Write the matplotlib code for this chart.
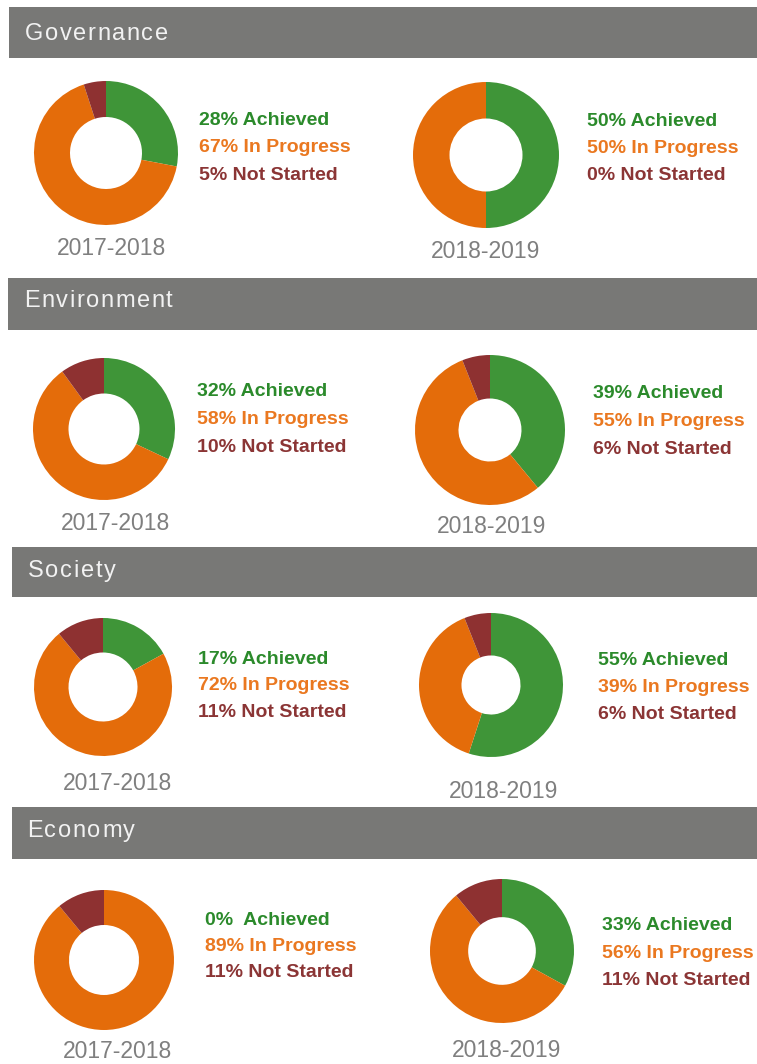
import matplotlib.pyplot as plt
from matplotlib.patches import Rectangle

# --- DATOS ---
sections = ["Governance", "Environment", "Society", "Economy"]
periods = ["2017-2018", "2018-2019"]
achieved = [[28, 50], [32, 39], [17, 55], [0, 33]]
in_progress = [[67, 50], [58, 55], [72, 39], [89, 56]]
not_started = [[5, 0], [10, 6], [11, 6], [11, 11]]
status_names = ["Achieved", "In Progress", "Not Started"]

# --- ESTILO ---
W, H = 757, 1064
wedge_colors = ['#3f9538', '#e46c0a', '#8e3131']
text_colors = ['#2b8a2b', '#ea7820', '#8b3535']
header_gray = '#787876'
year_gray = '#7f7f7f'
FONT = 'Liberation Sans'

# layout in pixels (x, y from top-left)
headers = [(9, 7, 58, 25, 40), (8, 278, 330, 24, 307),
           (12, 547, 597, 28, 577), (12, 807, 859, 27, 837)]
donuts = [[(106, 153, 72, 0.50), (486, 155, 73, 0.50)],
          [(104, 429, 71, 0.50), (490, 430, 75, 0.42)],
          [(103, 687, 69, 0.50), (491, 685, 72, 0.41)],
          [(104, 960, 70, 0.50), (502, 951, 72, 0.47)]]
legend_pos = [[(199, 125), (587, 126)],
              [(197, 396), (593, 398)],
              [(198, 664), (598, 665)],
              [(205, 925), (602, 930)]]
line_gap = [[27.5, 27], [28, 28], [26.5, 27], [26, 27.5]]
year_pos = [[(111, 255), (486, 258)],
            [(116, 530), (492, 533)],
            [(117, 790), (504, 798)],
            [(117, 1058), (507, 1057)]]

fig = plt.figure(figsize=(W / 100, H / 100), dpi=100)
fig.patch.set_facecolor('white')
ax = fig.add_axes([0, 0, 1, 1])
ax.set_xlim(0, W)
ax.set_ylim(H, 0)
ax.axis('off')
renderer = fig.canvas.get_renderer()


def texto_espaciado(x, y, s, espacio, **kw):
    # matplotlib no tiene letter-spacing: se coloca letra por letra
    for ch in s:
        t = ax.text(x, y, ch, **kw)
        x += t.get_window_extent(renderer).width + espacio


for i, sec in enumerate(sections):
    left, top, bottom, tx, ty = headers[i]
    ax.add_patch(Rectangle((left, top), W - left, bottom - top,
                           facecolor=header_gray, edgecolor='none'))
    texto_espaciado(tx, ty, sec, 1.6, color='#f2f2f2', fontsize=17,
                    family=FONT, va='baseline', ha='left')

    for j, per in enumerate(periods):
        cx, cy, r, hole = donuts[i][j]
        dax = fig.add_axes([(cx - r) / W, 1 - (cy + r) / H, 2 * r / W, 2 * r / H])
        vals = [achieved[i][j], in_progress[i][j], not_started[i][j]]
        dax.pie(vals, colors=wedge_colors, startangle=90, counterclock=False,
                radius=1, wedgeprops=dict(width=1 - hole, edgecolor='none'))
        dax.set_xlim(-1, 1)
        dax.set_ylim(-1, 1)
        dax.axis('off')

        lx, ly = legend_pos[i][j]
        for k, name in enumerate(status_names):
            pct = f"{vals[k]}%"
            sep = "  " if (vals[k] == 0 and k == 0) else " "
            ax.text(lx, ly + k * line_gap[i][j], pct + sep + name,
                    color=text_colors[k], fontsize=14, fontweight='bold',
                    family=FONT, va='baseline', ha='left')

        yx, yy = year_pos[i][j]
        ax.text(yx, yy, per, color=year_gray, fontsize=16.5, family=FONT,
                ha='center', va='baseline')

fig.savefig('out.png', dpi=100)
